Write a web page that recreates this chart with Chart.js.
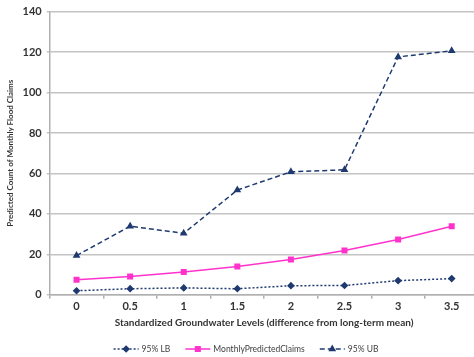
<!DOCTYPE html>
<html>
<head>
<meta charset="utf-8">
<script src="https://cdn.jsdelivr.net/npm/chart.js@4.4.1/dist/chart.umd.min.js"></script>
<style>
  html, body { margin: 0; padding: 0; background: #fff; overflow: hidden; }
  #wrap { width: 484px; height: 357px; }
</style>
</head>
<body>
<div id="wrap"><canvas id="c"></canvas></div>
<script>
const levels = ['0', '0.5', '1', '1.5', '2', '2.5', '3', '3.5'];
const lowerBound = [2, 3, 3.4, 3, 4.5, 4.6, 7, 8];
const predicted = [7.4, 9, 11.3, 14, 17.4, 21.9, 27.3, 33.9];
const upperBound = [19.4, 33.9, 30.4, 51.8, 60.8, 61.8, 117.6, 120.6];

const navy = '#1f3a70';
const pink = '#ff33cc';
const font = 'Lato, "Open Sans", sans-serif';

// excel-like legend: line sample with marker in the middle
const bottomLegend = {
  id: 'bottomLegend',
  afterDraw(chart) {
    const ctx = chart.ctx;
    const sets = chart.data.datasets;
    ctx.save();
    ctx.font = '8.5px ' + font;
    const sample = 25, gap = 3, space = 15;
    let total = 0;
    sets.forEach(d => { total += sample + gap + ctx.measureText(d.label).width; });
    total += space * (sets.length - 1);
    let x = chart.width / 2 + 4 - total / 2;
    const y = 349;
    sets.forEach(d => {
      ctx.strokeStyle = d.borderColor;
      ctx.lineWidth = d.borderWidth;
      ctx.setLineDash(d.borderDash || []);
      ctx.beginPath();
      ctx.moveTo(x, y);
      ctx.lineTo(x + sample, y);
      ctx.stroke();
      ctx.setLineDash([]);
      ctx.fillStyle = d.pointBackgroundColor;
      ctx.strokeStyle = d.pointBackgroundColor;
      Chart.helpers.drawPoint(ctx, {
        pointStyle: d.pointStyle, radius: d.pointRadius, rotation: 0,
        borderWidth: 1
      }, x + sample / 2, y);
      x += sample + gap;
      ctx.fillStyle = '#404040';
      ctx.textBaseline = 'middle';
      ctx.fillText(d.label, x, y);
      x += ctx.measureText(d.label).width + space;
    });
    ctx.restore();
  }
};

new Chart(document.getElementById('c'), {
  type: 'line',
  data: {
    labels: levels,
    datasets: [
      {
        label: '95% LB',
        data: lowerBound,
        borderColor: navy,
        borderWidth: 1.5,
        borderDash: [2, 2],
        pointStyle: 'rectRot',
        pointRadius: 2.8,
        pointBackgroundColor: navy,
        pointBorderColor: navy,
        tension: 0
      },
      {
        label: 'MonthlyPredictedClaims',
        data: predicted,
        borderColor: pink,
        borderWidth: 1.5,
        pointStyle: 'rect',
        pointRadius: 3.2,
        pointBackgroundColor: pink,
        pointBorderColor: pink,
        tension: 0
      },
      {
        label: '95% UB',
        data: upperBound,
        borderColor: navy,
        borderWidth: 1.5,
        borderDash: [5, 3],
        pointStyle: 'triangle',
        pointRadius: 3,
        pointBackgroundColor: navy,
        pointBorderColor: navy,
        tension: 0
      }
    ]
  },
  options: {
    responsive: true,
    maintainAspectRatio: false,
    animation: false,
    layout: { padding: { top: 11, left: 2, right: 0, bottom: 28 } },
    plugins: {
      legend: { display: false },
      tooltip: { enabled: false }
    },
    scales: {
      x: {
        offset: true,
        grid: { drawOnChartArea: false, offset: true, color: '#b0b0b0', tickLength: 4, lineWidth: 1.5 },
        border: { color: '#b0b0b0', width: 1.5 },
        ticks: { color: '#333', font: { family: font, size: 11, weight: 'bold' }, padding: 1 },
        title: {
          display: true,
          text: 'Standardized Groundwater Levels (difference from long-term mean)',
          color: '#333',
          font: { family: font, size: 10, weight: 'bold' },
          padding: { top: 3, bottom: 0 }
        }
      },
      y: {
        min: 0,
        max: 140,
        ticks: { stepSize: 20, color: '#333', font: { family: font, size: 11, weight: 'bold' }, padding: 5 },
        grid: { color: '#c4c4c4', lineWidth: 1.5, tickLength: 3 },
        border: { color: '#b0b0b0', width: 1.5 },
        title: {
          display: true,
          text: 'Predicted Count of Monthly Flood Claims',
          color: '#333',
          font: { family: font, size: 8, weight: 'bold' },
          padding: { top: 4, bottom: 2 }
        }
      }
    }
  },
  plugins: [bottomLegend]
});
</script>
</body>
</html>
